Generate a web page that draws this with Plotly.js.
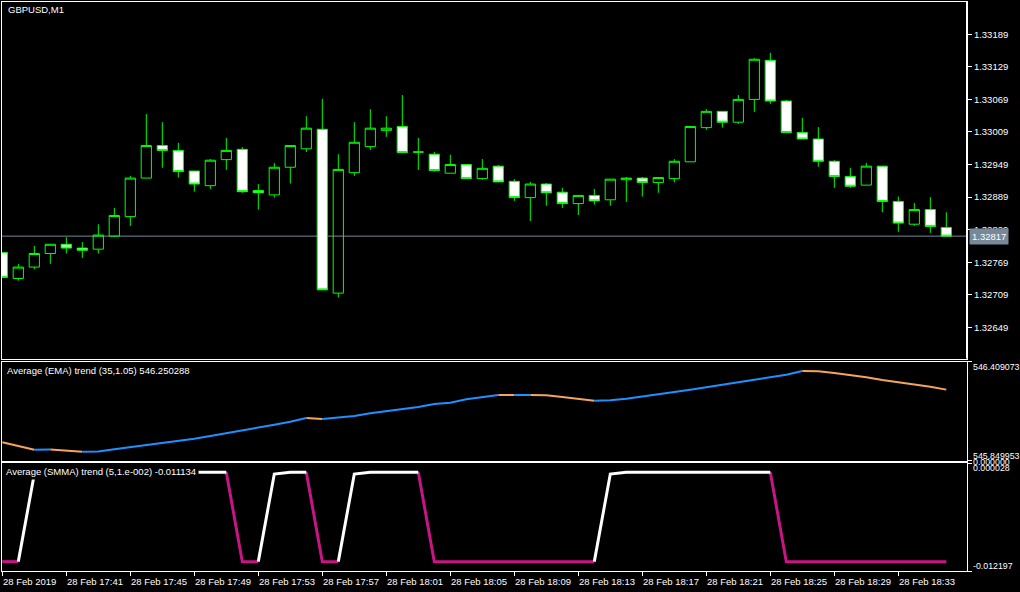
<!DOCTYPE html>
<html><head><meta charset="utf-8">
<script src="https://cdn.plot.ly/plotly-3.0.1.min.js"></script>
<style>html,body{margin:0;padding:0;background:#000;overflow:hidden}#chart{width:1020px;height:592px}</style>
</head><body><div id="chart"></div>
<script>
// ---------------- data ----------------
const symbolTitle = 'GBPUSD,M1';
const times = ['17:37','17:38','17:39','17:40','17:41','17:42','17:43','17:44','17:45','17:46',
 '17:47','17:48','17:49','17:50','17:51','17:52','17:53','17:54','17:55','17:56',
 '17:57','17:58','17:59','18:00','18:01','18:02','18:03','18:04','18:05','18:06',
 '18:07','18:08','18:09','18:10','18:11','18:12','18:13','18:14','18:15','18:16',
 '18:17','18:18','18:19','18:20','18:21','18:22','18:23','18:24','18:25','18:26',
 '18:27','18:28','18:29','18:30','18:31','18:32','18:33','18:34','18:35','18:36'];
const openP  = [1.32787,1.32739,1.32760,1.32785,1.32802,1.32795,1.32793,1.32817,1.32853,1.32924,
 1.32984,1.32975,1.32937,1.32910,1.32958,1.32977,1.32901,1.32893,1.32944,1.32978,
 1.33014,1.32712,1.32934,1.32982,1.33012,1.33019,1.32972,1.32968,1.32933,1.32949,
 1.32923,1.32946,1.32918,1.32888,1.32913,1.32898,1.32877,1.32892,1.32884,1.32921,
 1.32924,1.32916,1.32923,1.32954,1.33017,1.33047,1.33027,1.33069,1.33141,1.33066,
 1.33008,1.32996,1.32955,1.32927,1.32911,1.32946,1.32881,1.32839,1.32866,1.32833];
const highP  = [1.32787,1.32766,1.32799,1.32802,1.32815,1.32806,1.32839,1.32869,1.32928,1.33042,
 1.33027,1.32989,1.32937,1.32959,1.32998,1.32981,1.32913,1.32952,1.32984,1.33038,
 1.33070,1.32968,1.33027,1.33051,1.33038,1.33077,1.32998,1.32972,1.32967,1.32949,
 1.32959,1.32948,1.32922,1.32917,1.32915,1.32906,1.32892,1.32904,1.32922,1.32926,
 1.32926,1.32925,1.32959,1.33019,1.33051,1.33047,1.33077,1.33145,1.33155,1.33068,
 1.33035,1.33018,1.32957,1.32943,1.32952,1.32946,1.32890,1.32878,1.32889,1.32861];
const lowP   = [1.32741,1.32735,1.32756,1.32766,1.32785,1.32777,1.32785,1.32816,1.32836,1.32924,
 1.32943,1.32925,1.32899,1.32904,1.32939,1.32897,1.32866,1.32888,1.32914,1.32972,
 1.32718,1.32704,1.32928,1.32976,1.33000,1.32971,1.32939,1.32936,1.32933,1.32923,
 1.32921,1.32917,1.32882,1.32845,1.32873,1.32869,1.32856,1.32875,1.32873,1.32880,
 1.32890,1.32897,1.32916,1.32954,1.33013,1.33017,1.33024,1.33046,1.33061,1.33008,
 1.32996,1.32945,1.32906,1.32906,1.32911,1.32861,1.32825,1.32836,1.32823,1.32817];
const closeP = [1.32741,1.32760,1.32785,1.32802,1.32795,1.32791,1.32819,1.32855,1.32924,1.32984,
 1.32975,1.32936,1.32913,1.32957,1.32975,1.32899,1.32897,1.32944,1.32984,1.33016,
 1.32718,1.32940,1.32990,1.33016,1.33016,1.32971,1.32972,1.32938,1.32949,1.32923,
 1.32942,1.32917,1.32888,1.32913,1.32897,1.32877,1.32892,1.32882,1.32922,1.32924,
 1.32916,1.32925,1.32955,1.33019,1.33047,1.33027,1.33069,1.33143,1.33066,1.33008,
 1.32996,1.32955,1.32927,1.32909,1.32946,1.32881,1.32841,1.32866,1.32835,1.32817];
const bidPrice = 1.32817;
const priceTicks = [1.32649,1.32709,1.32769,1.32829,1.32889,1.32949,1.33009,1.33069,1.33129,1.33189];

const emaTitle = 'Average (EMA) trend (35,1.05) 546.250288';
const emaValues = [545.95274,545.93184,545.91094,545.91151,545.90755,545.89965,545.90020,545.91320,545.92450,545.93579,
 545.94709,545.96008,545.97307,545.98832,546.00357,546.02051,546.03519,546.05214,546.06908,546.08997,
 546.08433,546.09167,546.10127,546.11652,546.12781,546.13911,546.15210,546.16904,546.17638,546.19559,
 546.20688,546.21987,546.21930,546.21960,546.21800,546.20858,546.19898,546.18768,546.18994,546.19898,
 546.21027,546.22552,546.23682,546.24980,546.26505,546.27804,546.29160,546.30628,546.32153,546.33452,
 546.35542,546.35430,546.34412,546.33283,546.31984,546.30459,546.29329,546.28030,546.26675,546.250288];
const emaScale = [545.849953, 546.409073];

const smmaTitle = 'Average (SMMA) trend (5,1.e-002) -0.011134';
const smmaValues = [-0.011134,-0.011134,-0.00119,-0.000994,-0.000994,-0.000994,-0.000994,-0.000994,-0.000994,-0.000994,
 -0.000994,-0.000994,-0.000994,-0.000994,-0.000994,-0.011134,-0.011134,-0.00119,-0.000994,-0.000994,
 -0.011134,-0.011134,-0.00119,-0.000994,-0.000994,-0.000994,-0.000994,-0.011134,-0.011134,-0.011134,
 -0.011134,-0.011134,-0.011134,-0.011134,-0.011134,-0.011134,-0.011134,-0.011134,-0.00119,-0.000994,
 -0.000994,-0.000994,-0.000994,-0.000994,-0.000994,-0.000994,-0.000994,-0.000994,-0.000994,-0.011134,
 -0.011134,-0.011134,-0.011134,-0.011134,-0.011134,-0.011134,-0.011134,-0.011134,-0.011134,-0.011134];
const smmaScale = [-0.012197, 0.000028];
const smmaZero = 0;

const timeTickIndex = [0,4,8,12,16,20,24,28,32,36,40,44,48,52,56];
const timeTickText = ['28 Feb 2019','28 Feb 17:41','28 Feb 17:45','28 Feb 17:49','28 Feb 17:53','28 Feb 17:57',
 '28 Feb 18:01','28 Feb 18:05','28 Feb 18:09','28 Feb 18:13','28 Feb 18:17','28 Feb 18:21',
 '28 Feb 18:25','28 Feb 18:29','28 Feb 18:33'];

// ---------------- layout helpers ----------------
const W=1020, H=592, ML=2, MR=53, MT=2, MB=21;
const PW=W-ML-MR, PH=H-MT-MB;
const fx = px => (px-ML)/PW;
const fy = py => (H-MB-py)/PH;
const FONT = 'Liberation Sans, Arial, sans-serif';
const FS = 9.5;
const barPx = 16, firstBarPx = 2.3;
const xr0 = (ML-firstBarPx)/barPx, xr1 = xr0 + PW/barPx;
const idx = times.map((t,i)=>i);

// colour each bar-to-bar segment by direction; consecutive same-colour segments form one polyline
function segments(vals, cUp, cDn, xa, ya, w){
  const up={x:[],y:[]}, dn={x:[],y:[]};
  let prev=null;
  for(let i=1;i<vals.length;i++){
    const isUp = vals[i]>vals[i-1] ? true : (vals[i]<vals[i-1] ? false : (prev===null?false:prev));
    const t = isUp?up:dn;
    if(prev!==isUp){
      if(prev!==null){ const o = prev?up:dn; o.x.push(null); o.y.push(null); }
      t.x.push(idx[i-1]); t.y.push(vals[i-1]);
    }
    t.x.push(idx[i]); t.y.push(vals[i]);
    prev=isUp;
  }
  return [
    {type:'scatter',mode:'lines',x:dn.x,y:dn.y,xaxis:xa,yaxis:ya,line:{color:cDn,width:w},hoverinfo:'skip',connectgaps:false},
    {type:'scatter',mode:'lines',x:up.x,y:up.y,xaxis:xa,yaxis:ya,line:{color:cUp,width:w},hoverinfo:'skip',connectgaps:false}
  ];
}

const traces = [
  {type:'candlestick', x:idx, open:openP, high:highP, low:lowP, close:closeP, xaxis:'x', yaxis:'y',
   increasing:{line:{color:'#00ff00',width:1}, fillcolor:'rgba(0,0,0,0)'},
   decreasing:{line:{color:'#00ff00',width:1}, fillcolor:'#ffffff'},
   whiskerwidth:0, hoverinfo:'skip'},
  ...segments(emaValues,'#1E90FF','#F4A460','x2','y2',2),
  ...segments(smmaValues,'#FFFFFF','#C71585','x3','y3',3)
];

const axLine = {showline:true, linecolor:'#ffffff', linewidth:1, mirror:true, showgrid:false, zeroline:false};
const layout = {
  width:W, height:H, margin:{l:ML,r:MR,t:MT,b:MB,pad:0},
  paper_bgcolor:'#000000', plot_bgcolor:'#000000',
  showlegend:false, boxgap:0.2, boxgroupgap:0.2,
  font:{family:FONT,size:FS,color:'#ffffff'},
  xaxis:Object.assign({}, axLine, {domain:[0,1], anchor:'y', range:[xr0,xr1], showticklabels:false, ticks:'', rangeslider:{visible:false}}),
  yaxis:Object.assign({}, axLine, {domain:[fy(358.5),1], anchor:'x', side:'right', range:[1.32591499,1.33248529],
     tickvals:priceTicks, ticktext:priceTicks.map(v=>v.toFixed(5)), ticks:'outside', ticklen:4, tickcolor:'#ffffff',
     tickfont:{family:FONT,size:FS,color:'#ffffff'}}),
  xaxis2:Object.assign({}, axLine, {domain:[0,1], anchor:'y2', matches:'x', showticklabels:false, ticks:''}),
  yaxis2:Object.assign({}, axLine, {domain:[fy(460.5),fy(361.5)], anchor:'x2', side:'right', range:emaScale,
     tickvals:emaScale, showticklabels:false, ticks:'outside', ticklen:4, tickcolor:'#ffffff'}),
  xaxis3:Object.assign({}, axLine, {domain:[0,1], anchor:'y3', matches:'x', showticklabels:false,
     tickvals:timeTickIndex, ticks:'outside', ticklen:4, tickcolor:'#ffffff'}),
  yaxis3:Object.assign({}, axLine, {domain:[0,fy(463.3)], anchor:'x3', side:'right', range:smmaScale,
     tickvals:[smmaScale[0],smmaZero,smmaScale[1]], showticklabels:false, ticks:'outside', ticklen:4, tickcolor:'#ffffff'}),
  shapes:[
    {type:'line', xref:'x domain', x0:0, x1:1, yref:'y', y0:bidPrice, y1:bidPrice, line:{color:'#778899',width:1}, layer:'below'},
    {type:'line', xref:'paper', x0:1, x1:1, yref:'paper', y0:fy(358.5), y1:1, line:{color:'#ffffff',width:2}}
  ],
  annotations:[]
};
const A = layout.annotations;
const txt = (text, xpx, ypx, extra, fs) => Object.assign({text, xref:'paper', yref:'paper', x:fx(xpx), y:fy(ypx),
   xanchor:'left', yanchor:'middle', showarrow:false, font:{family:FONT,size:fs||FS,color:'#ffffff'}}, extra||{});
A.push(txt(symbolTitle, 6, 9.5));
A.push(txt(emaTitle, 4, 370.5, {bgcolor:'#000000', borderpad:2}));
A.push(txt(smmaTitle, 3, 471.5, {bgcolor:'#000000', borderpad:2}));
A.push(txt(emaScale[1].toFixed(6), 971, 366.5, null, 8.8));
A.push(txt(emaScale[0].toFixed(6), 971, 455.5, null, 8.8));
A.push(txt(smmaZero.toFixed(6), 971, 461.5, null, 8.8));
A.push(txt(smmaScale[1].toFixed(6), 971, 467.5, null, 8.8));
A.push(txt(smmaScale[0].toFixed(6), 971, 565.5, null, 8.8));
A.push({text:bidPrice.toFixed(5), xref:'paper', yref:'y', x:fx(969), y:bidPrice, xanchor:'left', yanchor:'middle',
   showarrow:false, bgcolor:'#778899', borderpad:2, font:{family:FONT,size:FS,color:'#ffffff'}});
timeTickIndex.forEach((k,j)=>{
  A.push({text:timeTickText[j], xref:'x3', yref:'paper', x:idx[k], y:fy(581), xanchor:'left', yanchor:'middle',
     xshift:-1, showarrow:false, font:{family:FONT,size:FS,color:'#ffffff'}});
});

Plotly.newPlot('chart', traces, layout, {displayModeBar:false, staticPlot:true});
</script></body></html>
